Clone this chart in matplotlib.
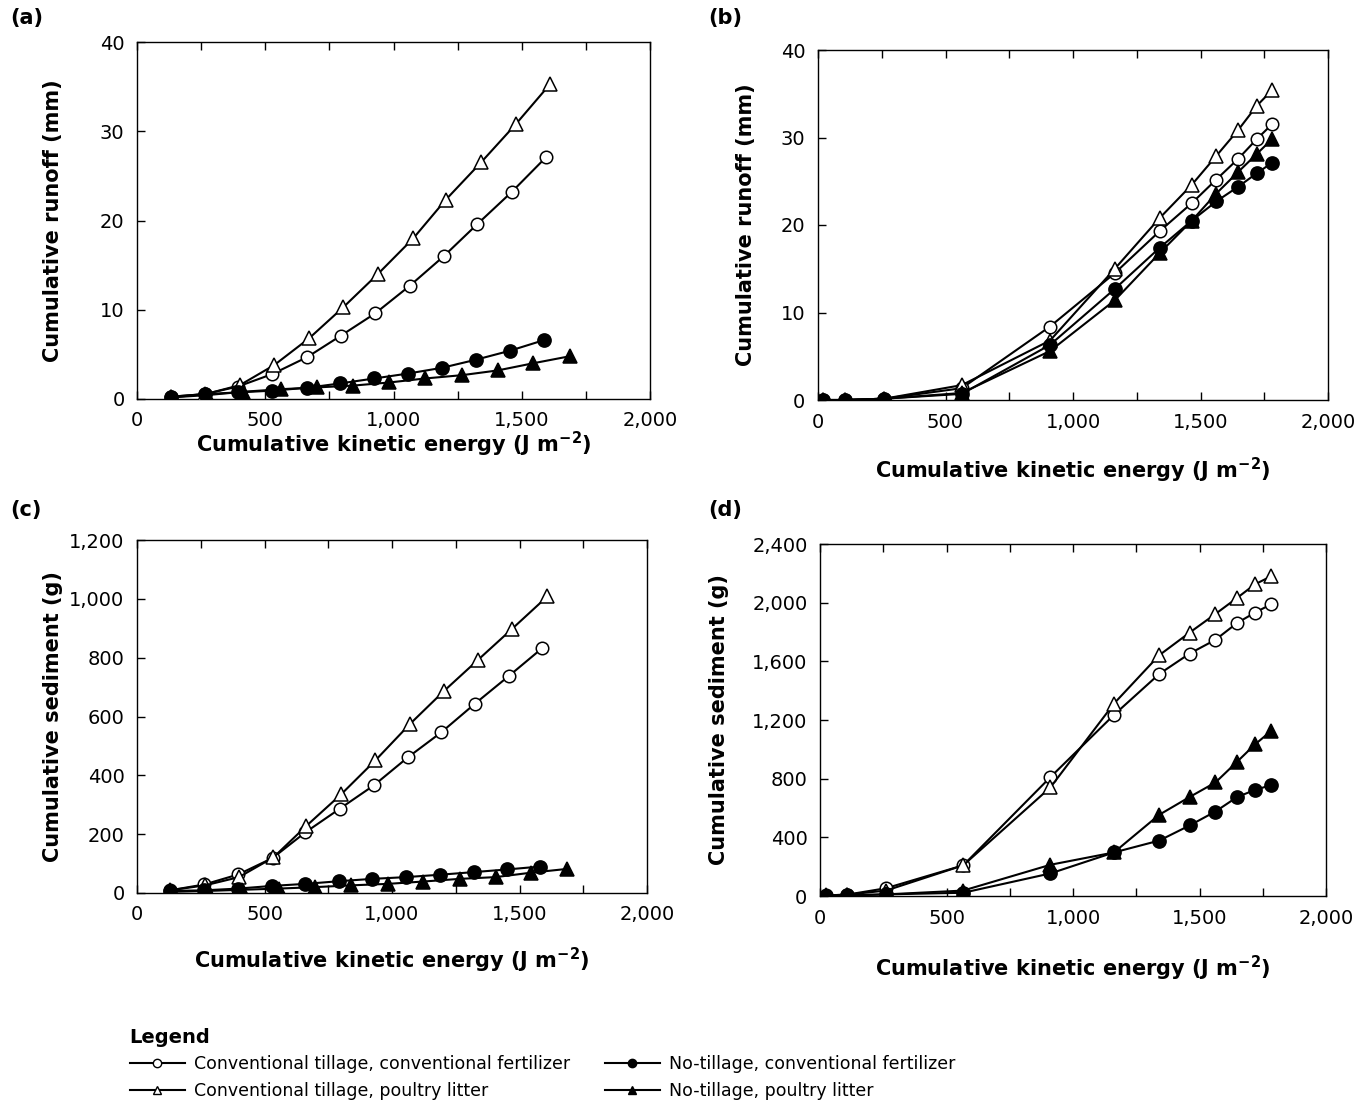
import matplotlib
matplotlib.use("Agg")
import matplotlib.pyplot as plt
from matplotlib.ticker import MultipleLocator, FuncFormatter
from matplotlib.lines import Line2D

# ---------------- data ----------------
series_names = ["Conventional tillage, conventional fertilizer",
                "Conventional tillage, poultry litter",
                "No-tillage, conventional fertilizer",
                "No-tillage, poultry litter"]

# (a) runoff, simulation 1
a_x_ctcf = [134, 265, 394, 528, 664, 795, 929, 1064, 1196, 1327, 1461, 1595]
a_y_ctcf = [0.26, 0.55, 1.4, 2.8, 4.7, 7.1, 9.6, 12.7, 16.0, 19.6, 23.2, 27.1]
a_x_ctpl = [134, 267, 401, 535, 671, 805, 939, 1077, 1203, 1341, 1477, 1611]
a_y_ctpl = [0.26, 0.55, 1.55, 3.8, 6.8, 10.3, 14.0, 18.0, 22.3, 26.5, 30.8, 35.3]
a_x_ntcf = [134, 265, 394, 525, 664, 791, 925, 1056, 1190, 1321, 1453, 1587]
a_y_ntcf = [0.18, 0.55, 0.74, 0.93, 1.26, 1.74, 2.3, 2.85, 3.5, 4.4, 5.4, 6.6]
a_x_ntpl = [134, 274, 414, 561, 702, 842, 983, 1123, 1267, 1406, 1544, 1689]
a_y_ntpl = [0.18, 0.44, 0.81, 1.1, 1.3, 1.5, 1.85, 2.3, 2.67, 3.2, 4.0, 4.8]

# (b) runoff, simulation 2 (shared energy values)
b_x = [20, 104, 260, 564, 910, 1164, 1340, 1466, 1562, 1649, 1720, 1780]
b_y_ctcf = [0, 0, 0.15, 1.35, 8.4, 14.5, 19.3, 22.5, 25.2, 27.6, 29.8, 31.5]
b_y_ctpl = [0, 0, 0.15, 1.7, 6.8, 15.0, 20.8, 24.6, 27.9, 30.9, 33.6, 35.4]
b_y_ntcf = [0, 0, 0.15, 0.7, 6.3, 12.7, 17.4, 20.5, 22.7, 24.4, 25.9, 27.1]
b_y_ntpl = [0, 0, 0.15, 0.8, 5.6, 11.4, 16.8, 20.5, 23.6, 26.1, 28.1, 29.8]

# (c) sediment, simulation 1
c_x_ctcf = [128, 264, 397, 532, 660, 796, 929, 1062, 1193, 1326, 1460, 1590]
c_y_ctcf = [9, 29, 63, 119, 206, 287, 366, 461, 546, 644, 739, 833]
c_x_ctpl = [128, 267, 400, 535, 664, 800, 935, 1071, 1203, 1338, 1471, 1609]
c_y_ctpl = [9, 26, 54, 121, 228, 335, 451, 575, 686, 793, 898, 1008]
c_x_ntcf = [128, 261, 397, 528, 660, 791, 922, 1055, 1187, 1320, 1451, 1582]
c_y_ntcf = [7, 9, 15, 24, 31, 40, 48, 54, 62, 71, 80, 90]
c_x_ntpl = [135, 277, 413, 556, 698, 840, 983, 1123, 1265, 1406, 1545, 1688]
c_y_ntpl = [4, 7, 11, 15, 20, 26, 31, 39, 48, 54, 69, 82]

# (d) sediment, simulation 2 (shared energy values)
d_x = [22, 106, 261, 566, 911, 1162, 1341, 1461, 1563, 1649, 1719, 1783]
d_y_ctcf = [4, 9, 53, 209, 811, 1235, 1514, 1653, 1747, 1862, 1932, 1989]
d_y_ctpl = [4, 9, 37, 209, 741, 1312, 1642, 1796, 1923, 2033, 2125, 2180]
d_y_ntcf = [0, 4, 11, 22, 154, 297, 378, 481, 576, 675, 723, 756]
d_y_ntpl = [0, 4, 11, 37, 213, 297, 554, 675, 774, 916, 1033, 1125]

# ---------------- style ----------------
styles = [dict(marker="o", mfc="white", mec="black", ms=9),
          dict(marker="^", mfc="white", mec="black", ms=9.5),
          dict(marker="o", mfc="black", mec="black", ms=9.5),
          dict(marker="^", mfc="black", mec="black", ms=9.5)]
LW = 1.5
plt.rcParams["font.family"] = ["DejaVu Sans"]

fig = plt.figure(figsize=(13.58, 11.05), dpi=100)
W, H = 1358, 1105

def add_ax(l, r, t, b):
    return fig.add_axes([l / W, 1 - b / H, (r - l) / W, (b - t) / H])

axA = add_ax(137, 650, 42, 399)
axB = add_ax(818, 1328, 50, 400)
axC = add_ax(137, 647, 540, 893)
axD = add_ax(820, 1326, 544, 896)

panels = [
    (axA, [(a_x_ctcf, a_y_ctcf), (a_x_ctpl, a_y_ctpl), (a_x_ntcf, a_y_ntcf), (a_x_ntpl, a_y_ntpl)],
     (0, 40), 10, "Cumulative runoff (mm)", "(a)", -0.085, -0.144),
    (axB, [(b_x, b_y_ctcf), (b_x, b_y_ctpl), (b_x, b_y_ntcf), (b_x, b_y_ntpl)],
     (0, 40), 10, "Cumulative runoff (mm)", "(b)", -0.16, -0.122),
    (axC, [(c_x_ctcf, c_y_ctcf), (c_x_ctpl, c_y_ctpl), (c_x_ntcf, c_y_ntcf), (c_x_ntpl, c_y_ntpl)],
     (0, 1200), 200, "Cumulative sediment (g)", "(c)", -0.15, -0.145),
    (axD, [(d_x, d_y_ctcf), (d_x, d_y_ctpl), (d_x, d_y_ntcf), (d_x, d_y_ntpl)],
     (0, 2400), 400, "Cumulative sediment (g)", "(d)", -0.165, -0.18),
]

fmt = FuncFormatter(lambda v, p: f"{int(round(v)):,}")
label_font = dict(fontsize=15, fontweight="bold")

for ax, data, ylim, ystep, ylab, tag, xlp, ylp in panels:
    for (xs, ys), st in zip(data, styles):
        ax.plot(xs, ys, color="black", lw=LW, mew=1.1, zorder=3, **st)
    ax.set_xlim(0, 2000)
    ax.set_ylim(*ylim)
    ax.xaxis.set_major_locator(MultipleLocator(500))
    ax.xaxis.set_minor_locator(MultipleLocator(250))
    ax.yaxis.set_major_locator(MultipleLocator(ystep))
    ax.xaxis.set_major_formatter(fmt)
    ax.yaxis.set_major_formatter(fmt)
    ax.tick_params(axis="both", which="both", direction="in", top=True, right=False,
                   labelsize=14, length=6, width=1, pad=9)
    ax.tick_params(axis="x", which="minor", length=6)
    for s in ax.spines.values():
        s.set_linewidth(1.0)
    ax.set_xlabel("Cumulative kinetic energy (J m$^{\\mathbf{-2}}$)", **label_font)
    ax.set_ylabel(ylab, **label_font)
    ax.xaxis.set_label_coords(0.5, xlp)
    ax.yaxis.set_label_coords(ylp, 0.5)

fig.text(10 / W, 1 - 18 / H, "(a)", fontsize=15, fontweight="bold", va="center", ha="left")
fig.text(708 / W, 1 - 18 / H, "(b)", fontsize=15, fontweight="bold", va="center", ha="left")
fig.text(10 / W, 1 - 510 / H, "(c)", fontsize=15, fontweight="bold", va="center", ha="left")
fig.text(708 / W, 1 - 510 / H, "(d)", fontsize=15, fontweight="bold", va="center", ha="left")

handles = [Line2D([], [], color="black", lw=LW, mew=1.0,
                  **{**st, "ms": 6}) for st in styles]
leg = fig.legend(handles, series_names, loc="upper left",
                 bbox_to_anchor=(114 / W, 1 - 1012 / H), ncol=2, frameon=False,
                 title="Legend", fontsize=12.5, handlelength=3.2, handletextpad=0.5,
                 columnspacing=2.0, labelspacing=0.5)
leg.get_title().set_fontweight("bold")
leg.get_title().set_fontsize(14)
leg._legend_box.align = "left"

fig.savefig("out.png", dpi=100)
